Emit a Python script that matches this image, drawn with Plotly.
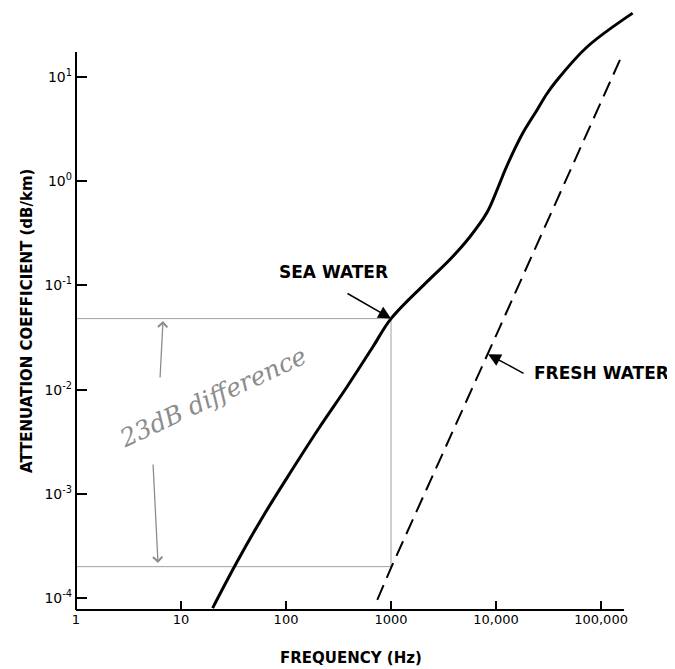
import numpy as np
import plotly.graph_objects as go

# ---------------- data ----------------
freq_sea = [20, 34, 60, 110, 210, 380, 670, 1000, 2300, 3600, 5600, 8200,
            10400, 12200, 14200, 18000, 24500, 30500, 38000, 73500, 200000]
atten_sea = [8.0e-5, 2.2e-4, 6.0e-4, 1.6e-3, 4.4e-3, 0.0106, 0.0256, 0.048,
             0.113, 0.175, 0.29, 0.50, 0.86, 1.28, 1.8, 2.9, 4.8, 6.9, 9.3, 19.4, 41]

freq_fresh = [740, 1000, 10000, 100000, 162000]
atten_fresh = [9.6e-5, 1.95e-4, 0.033, 5.8, 17.0]

ref_freq = [1, 1000]          # grey reference lines
ref_hi = 0.048                # sea water at 1 kHz
ref_lo = 2.0e-4               # fresh water at 1 kHz

x_tickvals = [1, 10, 100, 1000, 10000, 100000]
x_ticktext = ["1", "10", "100", "1000", "10,000", "100,000"]
y_tickvals = [1e-4, 1e-3, 1e-2, 1e-1, 1e0, 1e1]
y_ticktext = ["10<sup>-4</sup>", "10<sup>-3</sup>", "10<sup>-2</sup>",
              "10<sup>-1</sup>", "10<sup>0</sup>", "10<sup>1</sup>"]

# ---------------- layout geometry ----------------
OFF = 8                      # page body margin
W, H = 667, 661
L, T, R, B = 68, 0, 35, 59
PW, PH = W - L - R, H - T - B
XR = [0, 5.371]
YR = [-4.115, 1.662]


def P(px, py):
    """page pixel -> paper coords"""
    return (px - OFF - L) / PW, (T + PH - (py - OFF)) / PH


FONT = "DejaVu Sans"
fig = go.Figure()

grey = "#a0a0a0"
fig.add_trace(go.Scatter(x=ref_freq, y=[ref_hi, ref_hi], mode="lines",
                         line=dict(color=grey, width=1), hoverinfo="skip"))
fig.add_trace(go.Scatter(x=ref_freq, y=[ref_lo, ref_lo], mode="lines",
                         line=dict(color=grey, width=1), hoverinfo="skip"))
fig.add_trace(go.Scatter(x=[ref_freq[1], ref_freq[1]], y=[ref_lo, ref_hi], mode="lines",
                         line=dict(color=grey, width=1), hoverinfo="skip"))

fig.add_trace(go.Scatter(x=freq_fresh, y=atten_fresh, mode="lines",
                         line=dict(color="black", width=2, dash="16px,8px"),
                         name="FRESH WATER"))
fig.add_trace(go.Scatter(x=freq_sea, y=atten_sea, mode="lines",
                         line=dict(color="black", width=3, shape="spline", smoothing=1.0),
                         name="SEA WATER"))

# axis lines (stop short like the original)
fig.add_shape(type="line", xref="paper", yref="paper", x0=0, x1=0, y0=0,
              y1=(1.24 - YR[0]) / (YR[1] - YR[0]), line=dict(color="black", width=2))
fig.add_shape(type="line", xref="paper", yref="paper", y0=0, y1=0, x0=0,
              x1=5.219 / XR[1], line=dict(color="black", width=2))

ann = []
x, y = P(277, 272)
ann.append(dict(x=x, y=y, xref="paper", yref="paper", text="<b>SEA WATER</b>", showarrow=False,
                xanchor="left", yanchor="middle", font=dict(family=FONT, size=17, color="black")))
x, y = P(532, 373)
ann.append(dict(x=x, y=y, xref="paper", yref="paper", text="<b>FRESH WATER</b>", showarrow=False,
                xanchor="left", yanchor="middle", font=dict(family=FONT, size=17, color="black")))
ann.append(dict(x=3.0, y=np.log10(ref_hi), xref="x", yref="y", text="", showarrow=True,
                ax=-45, ay=-26, arrowhead=2, arrowsize=1.7, arrowwidth=1.5, arrowcolor="black"))
ann.append(dict(x=np.log10(8400), y=-1.66, xref="x", yref="y", text="", showarrow=True,
                ax=37, ay=20, arrowhead=2, arrowsize=1.7, arrowwidth=1.5, arrowcolor="black"))

# axis titles
x, y = P(351, 658)
ann.append(dict(x=x, y=y, xref="paper", yref="paper", text="<b>FREQUENCY (Hz)</b>", showarrow=False,
                xanchor="center", yanchor="middle", font=dict(family=FONT, size=15, color="black")))
x, y = P(27, 321)
ann.append(dict(x=x, y=y, xref="paper", yref="paper", text="<b>ATTENUATION COEFFICIENT (dB/km)</b>",
                showarrow=False, textangle=-90, xanchor="center", yanchor="middle",
                font=dict(family=FONT, size=15, color="black")))

# handwritten note
hw = "#8c8c8c"
x, y = P(212, 397)
ann.append(dict(x=x, y=y, xref="paper", yref="paper", text="23dB difference", showarrow=False,
                textangle=-25, xanchor="center", yanchor="middle",
                font=dict(family="DejaVu Serif", size=25, color=hw, style="italic")))
x, y = P(163, 321)
ann.append(dict(x=x, y=y, xref="paper", yref="paper", text="", showarrow=True, ax=-3, ay=58,
                arrowhead=4, arrowsize=1.4, arrowwidth=1.3, arrowcolor=hw))
x, y = P(158, 563)
ann.append(dict(x=x, y=y, xref="paper", yref="paper", text="", showarrow=True, ax=-5, ay=-100,
                arrowhead=4, arrowsize=1.4, arrowwidth=1.3, arrowcolor=hw))

fig.update_layout(
    width=W, height=H,
    margin=dict(l=L, r=R, t=T, b=B, pad=0),
    paper_bgcolor="white", plot_bgcolor="white",
    showlegend=False,
    annotations=ann,
    xaxis=dict(type="log", range=XR, tickvals=x_tickvals, ticktext=x_ticktext,
               ticks="inside", ticklen=9, tickwidth=1.5, tickcolor="black",
               showgrid=False, zeroline=False, showline=False,
               tickfont=dict(family=FONT, size=13, color="black")),
    yaxis=dict(type="log", range=YR, tickvals=y_tickvals, ticktext=y_ticktext,
               ticks="inside", ticklen=11, tickwidth=1.5, tickcolor="black",
               showgrid=False, zeroline=False, showline=False, ticklabelstandoff=3,
               tickfont=dict(family=FONT, size=14, color="black")),
)

fig.write_html("out.html")
